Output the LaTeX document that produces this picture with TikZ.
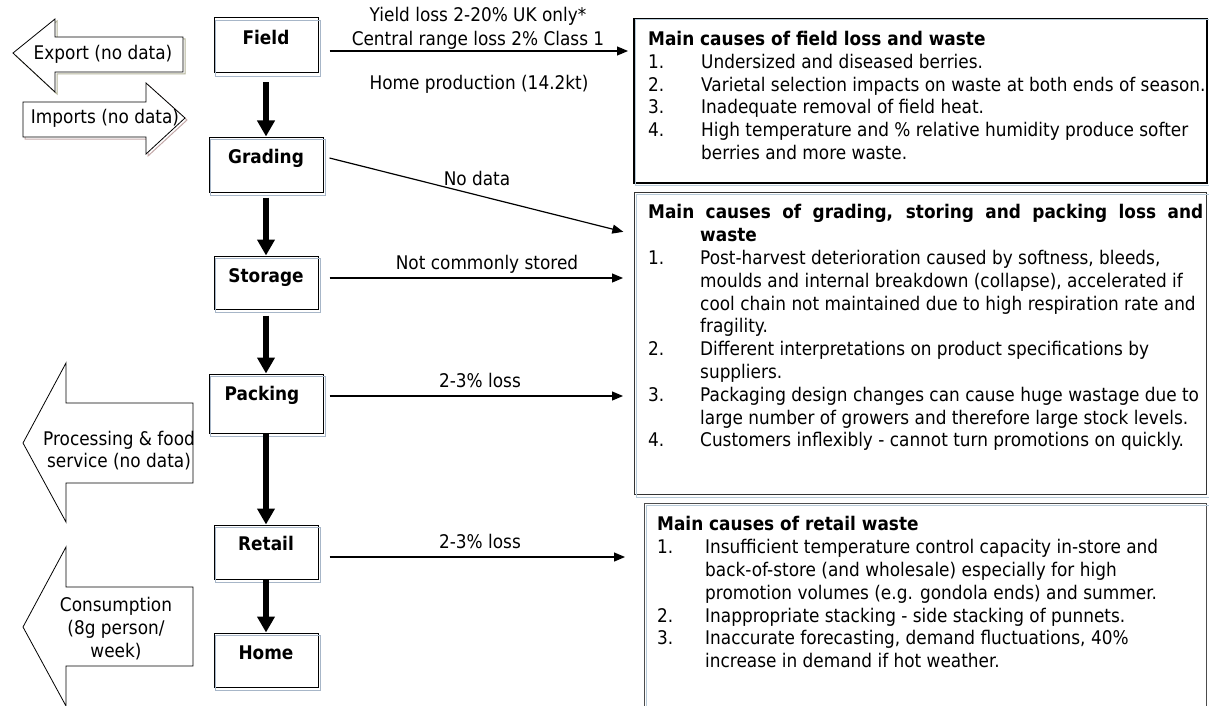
\documentclass[tikz,border=0pt]{standalone}
\usepackage{fontspec}
\setmainfont{DejaVu Sans}[FakeStretch=0.9]
\usetikzlibrary{arrows.meta,calc}

\definecolor{edgeblue}{HTML}{A7B6C8}
\definecolor{paleblue}{HTML}{B7CAD8}
\definecolor{olivegrey}{HTML}{B5B59A}
\definecolor{rosegrey}{HTML}{C4A9A9}
\newcommand{\diagfont}{\fontsize{18.8}{22.8}\selectfont}

\begin{document}
\begin{tikzpicture}[x=1pt,y=-1pt,
  every node/.style={inner sep=0pt, font=\diagfont},
  stagebox/.style={draw=black, line width=1pt},
  stagelbl/.style={font=\diagfont\bfseries, text height=13.7pt, text depth=0pt},
  lbl/.style={text height=13.7pt, text depth=0pt},
  conn/.style={line width=1.2pt, -{Triangle[length=11pt,width=9pt]}},
  flow/.style={line width=5.5pt, -{Triangle[length=16pt,width=17pt]}},
  causebox/.style={draw, anchor=north west},
  causetext/.style={anchor=north west, align=left},
  blockarrow/.style={draw=black, line width=0.8pt, fill=white},
]
\useasboundingbox (0,0) rectangle (1209,706);
\fill[white] (0,0) rectangle (1209,706);

% ---------- supply chain stages ----------
\node[stagebox, minimum width=104pt, minimum height=55pt] (field)   at (266,45.5)  {};
\node[stagebox, minimum width=114pt, minimum height=55pt] (grading) at (266,164.5) {};
\node[stagebox, minimum width=104pt, minimum height=53pt] (storage) at (266,282.5) {};
\node[stagebox, minimum width=114pt, minimum height=59pt] (packing) at (266,403.5) {};
\node[stagebox, minimum width=104pt, minimum height=54pt] (retail)  at (266,552)   {};
\node[stagebox, minimum width=104pt, minimum height=54pt] (home)    at (266,660)   {};
\foreach \n in {field,grading,storage,packing,retail,home}
  \draw[edgeblue, line width=0.9pt] ([shift={(2,3)}]\n.north west) rectangle ([shift={(2,3)}]\n.south east);

\node[stagelbl] (fieldlbl)   at (266,38)  {Field};
\node[stagelbl] (gradinglbl) at (266,157) {Grading};
\node[stagelbl] (storagelbl) at (266,276) {Storage};
\node[stagelbl] (packinglbl) at (262,394) {Packing};
\node[stagelbl] (retaillbl)  at (266,544) {Retail};
\node[stagelbl] (homelbl)    at (266,653) {Home};

\draw[flow, shorten <=9pt] (field) -- (grading);
\draw[flow, shorten <=5pt] (grading) -- (storage);
\draw[flow, shorten <=6pt] (storage) -- (packing);
\draw[flow] (packing) -- (retail);
\draw[flow] (retail) -- (home);

% ---------- cause boxes ----------
\node[causebox, line width=1.8pt, minimum width=573pt, minimum height=164pt] (box1) at (633,18) {};
\node[causebox, draw=black!80, line width=1.2pt, minimum width=572pt, minimum height=302pt] (box2) at (634,192) {};
\node[causebox, draw=black!70, line width=1.2pt, minimum width=562pt, minimum height=230pt] (box3) at (644,503) {};
\foreach \n in {box1,box2,box3}
  \draw[paleblue, line width=1pt] ([shift={(2,2)}]\n.north west) rectangle ([shift={(2,2)}]\n.south east);

\node[causetext] (box1txt) at (648,31) {%
\textbf{Main causes of field loss and waste}\\
\makebox[53pt][l]{1.}Undersized and diseased berries.\\
\makebox[53pt][l]{2.}Varietal selection impacts on waste at both ends of season.\\
\makebox[53pt][l]{3.}Inadequate removal of field heat.\\
\makebox[53pt][l]{4.}High temperature and \% relative humidity produce softer\\
\hspace*{53pt}berries and more waste.};

\node[causetext] (box2txt) at (648,204.5) {%
\makebox[555pt][s]{\bfseries Main causes of grading, storing and packing loss and}\\
\hspace*{52pt}\textbf{waste}\\
\makebox[52pt][l]{1.}Post-harvest deterioration caused by softness, bleeds,\\
\hspace*{52pt}moulds and internal breakdown (collapse), accelerated if\\
\hspace*{52pt}cool chain not maintained due to high respiration rate and\\
\hspace*{52pt}fragility.\\
\makebox[52pt][l]{2.}Different interpretations on product specifications by\\
\hspace*{52pt}suppliers.\\
\makebox[52pt][l]{3.}Packaging design changes can cause huge wastage due to\\
\hspace*{52pt}large number of growers and therefore large stock levels.\\
\makebox[52pt][l]{4.}Customers inflexibly - cannot turn promotions on quickly.};

\node[causetext] (box3txt) at (657,516.5) {%
\textbf{Main causes of retail waste}\\
\makebox[48pt][l]{1.}Insufficient temperature control capacity in-store and\\
\hspace*{48pt}back-of-store (and wholesale) especially for high\\
\hspace*{48pt}promotion volumes (e.g. gondola ends) and summer.\\
\makebox[48pt][l]{2.}Inappropriate stacking - side stacking of punnets.\\
\makebox[48pt][l]{3.}Inaccurate forecasting, demand fluctuations, 40\%\\
\hspace*{48pt}increase in demand if hot weather.};

% ---------- loss connectors ----------
\coordinate (fy) at (0,51);
\coordinate (gy) at (0,234.5);
\coordinate (sy) at (0,278);
\coordinate (py) at (0,396);
\coordinate (ry) at (0,557);

\draw[conn, shorten <=11pt, shorten >=5pt] (field.east |- fy) -- (box1.west |- fy);
\draw[conn, shorten >=11pt] ($(grading.east)+(6,-6.5)$) -- (box2.west |- gy);
\draw[conn, shorten <=11pt, shorten >=11pt] (storage.east |- sy) -- (box2.west |- sy);
\draw[conn, shorten <=6pt, shorten >=11pt] (packing.east |- py) -- (box2.west |- py);
\draw[conn, shorten <=11pt, shorten >=19pt] (retail.east |- ry) -- (box3.west |- ry);

\node[lbl] (yieldlbl)   at (478,15)  {Yield loss 2-20\% UK only*};
\node[lbl] (centrallbl) at (478,39)  {Central range loss 2\% Class 1};
\node[lbl] (homeprod)   at (479,83)  {Home production (14.2kt)};
\node[lbl] (nodatalbl)  at (477,179) {No data};
\node[lbl] (storedlbl)  at (487,263) {Not commonly stored};
\node[lbl] (packloss)   at (480,381) {2-3\% loss};
\node[lbl] (retailloss) at (480,542) {2-3\% loss};

% ---------- trade and consumption block arrows ----------
\draw[olivegrey, line width=1pt, shift={(2,2)}]
  (13,53) -- (55,19) -- (55,37) -- (183,37) -- (183,72) -- (55,72) -- (55,92) -- cycle;
\draw[blockarrow]
  (13,53) -- (55,19) -- (55,37) -- (183,37) -- (183,72) -- (55,72) -- (55,92) -- cycle;
\node[lbl] (exportlbl) at (103,53) {Export (no data)};

\draw[rosegrey, line width=1pt, shift={(2,2)}]
  (23,102) -- (146,102) -- (146,83) -- (185,118) -- (146,154) -- (146,137) -- (23,137) -- cycle;
\draw[blockarrow]
  (23,102) -- (146,102) -- (146,83) -- (185,118) -- (146,154) -- (146,137) -- (23,137) -- cycle;
\node[lbl] (importlbl) at (105,117) {Imports (no data)};

\draw[blockarrow]
  (23,443) -- (66,363) -- (66,403) -- (193,403) -- (193,483) -- (66,483) -- (66,522) -- cycle;
\begin{scope}
  \clip (20,355) rectangle (193,530);
  \node[align=center] (proclbl) at (119,450.5) {Processing \& food\\service (no data)};
\end{scope}

\draw[blockarrow]
  (23,627) -- (66,547) -- (66,587) -- (193,587) -- (193,666) -- (66,666) -- (66,706) -- cycle;
\node[align=center] (consumelbl) at (116,628.5) {Consumption\\(8g person/\\week)};

\end{tikzpicture}
\end{document}
